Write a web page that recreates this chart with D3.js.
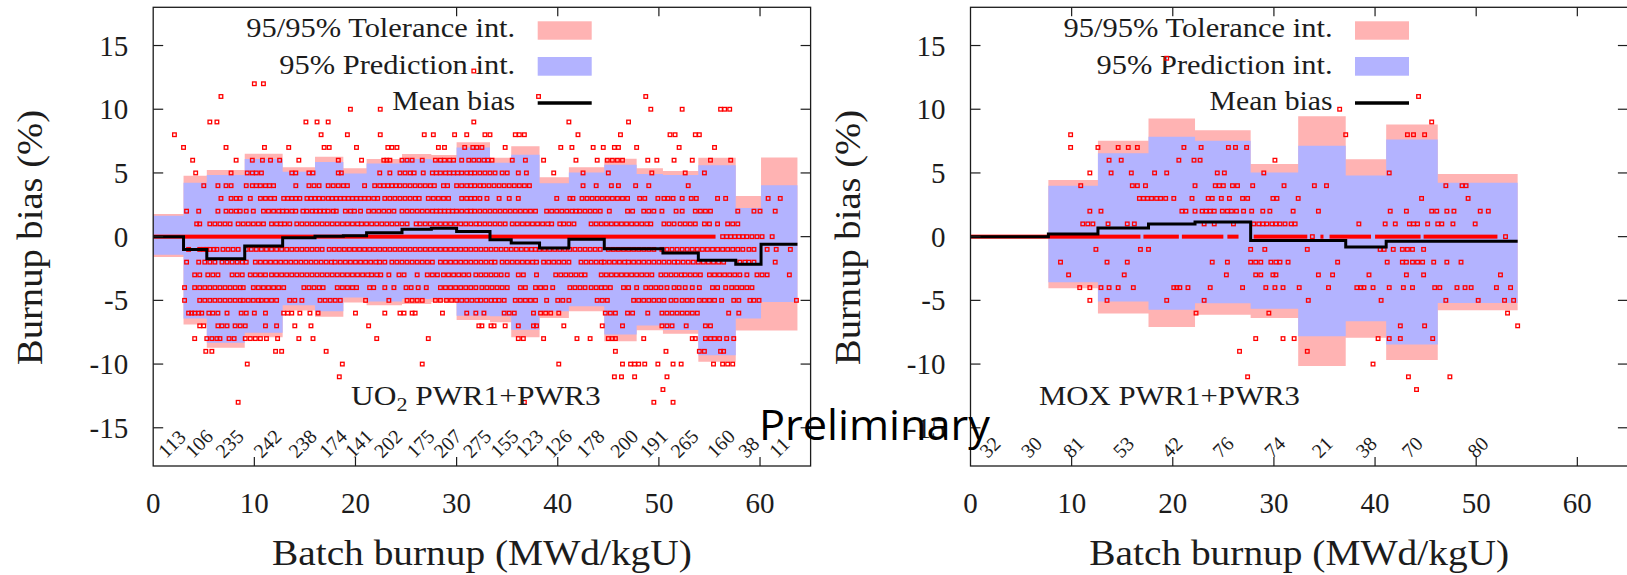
<!DOCTYPE html>
<html lang="en">
<head>
<meta charset="UTF-8">
<title>Burnup bias vs batch burnup</title>
<script src="https://d3js.org/d3.v7.min.js"></script>
<style>
  body { margin: 0; background: #fff; }
  svg text { font-family: "Liberation Serif", "DejaVu Serif", serif; fill: #1c1c1c; }
</style>
</head>
<body>
<svg id="chart" width="1627" height="575"></svg>
<script>
// ---------- UO2 panel ----------
const uo2Edges = [0, 3, 5.3, 9.05, 12.8, 16, 18.8, 21.1, 24.6, 27.5, 30, 33.3, 35.4, 38.2, 41.1, 44.6, 47.8, 50.4, 53.9, 57.6, 60.1, 63.7];
const uo2Mean = [0, -1.0, -1.73, -0.73, -0.08, 0.03, 0.08, 0.3, 0.58, 0.65, 0.4, -0.25, -0.5, -0.9, -0.2, -0.95, -0.95, -1.28, -1.86, -2.17, -0.6];
const uo2TolHi = [1.77, 4.77, 5.23, 6.5, 5.44, 6.28, 5.36, 6.1, 6.48, 6.4, 7.4, 6.2, 7.1, 4.66, 5.44, 6.12, 5.36, 5.16, 6.2, 3.2, 6.22];
const uo2PredHi = [1.64, 4.24, 4.84, 6.1, 5.1, 5.86, 4.95, 5.75, 6.1, 6.0, 7.0, 5.8, 6.43, 4.2, 5.03, 5.65, 4.92, 4.84, 5.6, 2.24, 4.04];
const uo2PredLo = [-1.43, -6.43, -8.33, -7.55, -5.39, -5.86, -4.77, -5.08, -4.9, -4.82, -6.2, -6.25, -7.3, -5.86, -5.47, -7.68, -6.98, -7.32, -9.3, -6.43, -5.13];
const uo2TolLo = [-1.59, -6.9, -8.72, -7.9, -5.8, -6.28, -5.16, -5.39, -5.29, -5.13, -6.55, -6.72, -7.9, -6.38, -5.86, -8.2, -7.34, -7.63, -9.82, -7.37, -7.37];
const uo2Counts = ["113", "106", "235", "242", "238", "174", "141", "202", "175", "207", "275", "155", "123", "126", "178", "200", "191", "265", "160", "38", "11"];
const uo2ZeroRuns = [[0, 55.6]];
const uo2Points = [
  [13, [31.7]],
  [12, [10.0, 10.9]],
  [11, [6.7, 38.1, 48.7]],
  [10, [19.5, 22.45, 49.2, 52.3, 56.1, 56.5, 57.0]],
  [9, [5.6, 6.3, 15.1, 16.2, 17.3, 31.7, 41.1, 47.0]],
  [8, [2.1, 16.6, 19.2, 22.45, 26.8, 27.7, 29.8, 31.0, 32.8, 33.3, 35.8, 36.2, 36.7, 42.0, 46.2, 51.1, 51.6, 53.6, 54.0]],
  [7, [3.0, 7.2, 11.0, 13.4, 16.9, 17.4, 20.1, 23.2, 23.6, 24.1, 28.2, 28.8, 30.8, 31.6, 32.0, 32.5, 34.8, 40.3, 41.4, 43.5, 44.5, 45.6, 46.0, 47.8, 52.0, 55.5]],
  [6, [3.9, 8.2, 9.8, 10.8, 11.6, 12.5, 14.4, 18.3, 20.6, 22.8, 23.1, 23.4, 24.6, 25.1, 25.6, 26.6, 27.9, 28.4, 28.8, 29.3, 29.7, 30.5, 31.2, 31.7, 32.2, 32.7, 33.1, 33.5, 35.5, 36.8, 38.6, 41.8, 43.9, 44.9, 45.4, 45.9, 46.4, 48.9, 49.8, 51.5, 53.3, 55.1, 57.1]],
  [5, [4.2, 7.7, 9.3, 9.8, 10.2, 10.7, 13.7, 14.1, 15.4, 15.8, 18.3, 18.6, 22.4, 23.4, 24.4, 24.9, 25.4, 25.8, 26.7, 27.6, 28.0, 28.4, 28.9, 29.3, 29.7, 30.1, 30.5, 31.0, 31.4, 31.8, 32.3, 32.8, 33.3, 33.8, 34.5, 35.0, 36.1, 36.9, 39.6, 42.5, 45.0, 49.3, 52.6, 54.5]],
  [4, [5.0, 6.4, 7.2, 7.7, 9.2, 9.8, 10.2, 10.6, 11.1, 11.5, 11.9, 14.1, 15.4, 15.9, 16.4, 17.3, 17.8, 18.3, 18.8, 19.2, 20.9, 21.9, 22.4, 22.8, 23.2, 23.6, 24.0, 24.4, 24.9, 25.4, 25.9, 26.4, 26.9, 27.4, 27.8, 28.7, 29.1, 30.0, 30.5, 31.0, 31.4, 31.8, 32.3, 32.7, 33.2, 33.7, 34.2, 34.7, 35.2, 35.7, 36.2, 36.7, 37.2, 42.5, 43.8, 45.3, 46.0, 47.7, 49.0, 52.9]],
  [3, [6.7, 7.7, 8.2, 8.6, 9.6, 10.6, 11.1, 11.6, 12.0, 12.9, 13.3, 13.7, 14.1, 14.5, 15.2, 15.6, 16.0, 16.4, 16.8, 17.3, 17.7, 18.1, 18.5, 18.9, 19.3, 19.7, 20.1, 20.5, 20.9, 21.3, 21.8, 22.2, 22.9, 23.4, 23.9, 24.4, 24.9, 25.4, 25.9, 26.3, 27.2, 27.7, 28.2, 28.7, 29.2, 30.5, 31.0, 31.4, 31.8, 32.3, 33.0, 34.2, 35.2, 36.1, 39.9, 41.2, 41.5, 42.4, 42.9, 43.4, 43.9, 44.4, 44.9, 45.4, 45.9, 46.4, 46.9, 48.1, 48.6, 49.9, 50.5, 50.9, 51.4, 52.3, 53.2, 53.7, 55.8, 56.6, 60.8, 62.0]],
  [2, [3.3, 4.5, 6.4, 7.2, 7.7, 8.2, 8.6, 9.2, 9.9, 10.9, 11.4, 11.9, 12.4, 12.8, 13.2, 13.7, 14.1, 14.8, 15.2, 15.7, 16.1, 16.5, 16.9, 17.3, 17.8, 18.1, 19.0, 19.5, 19.9, 20.5, 21.3, 21.8, 22.3, 22.8, 23.3, 23.8, 24.6, 25.1, 25.6, 26.1, 26.6, 27.1, 27.6, 28.0, 28.4, 28.8, 29.2, 29.6, 30.0, 30.5, 31.0, 31.4, 31.8, 32.3, 32.8, 33.3, 33.8, 34.3, 34.8, 35.3, 35.8, 36.3, 36.8, 37.3, 37.8, 38.9, 39.4, 39.9, 40.4, 40.9, 41.4, 41.8, 42.2, 42.7, 43.2, 43.7, 44.2, 45.1, 46.9, 47.4, 48.5, 49.0, 49.5, 50.3, 51.7, 52.3, 53.6, 54.1, 54.6, 55.1, 57.8, 59.4, 60.0, 61.5]],
  [1, [4.3, 4.6, 5.6, 6.1, 6.6, 7.1, 7.6, 8.4, 8.9, 9.4, 9.9, 10.4, 10.9, 11.7, 12.2, 12.6, 13.0, 13.5, 14.2, 14.7, 15.2, 15.7, 16.2, 16.7, 17.2, 17.7, 18.2, 18.7, 19.2, 19.7, 20.2, 20.6, 21.1, 21.6, 22.1, 22.6, 23.1, 23.6, 24.1, 24.6, 25.1, 26.0, 26.4, 26.9, 27.4, 27.9, 28.4, 28.9, 29.4, 29.9, 30.4, 30.9, 31.4, 31.9, 32.3, 32.8, 33.3, 33.8, 34.3, 34.8, 35.5, 36.0, 36.5, 37.0, 37.5, 38.0, 38.5, 39.0, 39.4, 40.2, 40.6, 41.1, 41.6, 43.3, 43.8, 44.3, 44.8, 45.3, 45.8, 46.3, 46.8, 47.3, 47.8, 48.3, 48.8, 49.2, 50.5, 51.0, 51.5, 52.1, 52.6, 53.1, 53.6, 54.5, 55.0, 55.8, 56.8, 57.3, 57.8]],
  [0, [56.3, 56.7, 57.1, 57.5, 57.9, 58.3, 58.7, 59.2, 59.7, 60.2, 61.2]],
  [-1, [3.5, 4.6, 5.0, 5.3, 5.6, 6.0, 6.3, 6.9, 7.4, 7.9, 8.4, 9.2, 9.7, 10.2, 10.7, 11.2, 11.7, 12.2, 12.7, 13.2, 13.7, 14.2, 14.7, 15.2, 15.7, 16.2, 16.7, 17.4, 17.9, 18.4, 18.9, 19.4, 19.9, 20.4, 20.9, 21.4, 21.9, 22.4, 22.9, 23.4, 23.9, 24.4, 24.9, 25.4, 25.9, 26.4, 26.9, 27.4, 27.9, 28.4, 28.9, 29.4, 29.9, 30.4, 30.9, 31.4, 31.9, 32.4, 32.9, 33.4, 33.9, 34.4, 34.9, 35.4, 35.9, 36.4, 36.9, 37.4, 37.8, 38.2, 38.7, 39.2, 39.7, 40.2, 40.7, 41.2, 41.7, 42.2, 42.7, 43.2, 43.7, 44.2, 45.0, 45.5, 46.0, 46.5, 47.0, 47.5, 48.0, 48.5, 49.0, 49.5, 50.3, 50.8, 51.3, 51.8, 52.3, 52.8, 53.3, 53.8, 54.3, 54.8, 55.3, 55.8, 56.3, 56.8, 57.3, 57.8, 58.3, 58.9, 59.4, 60.7, 61.6, 63.0]],
  [-2, [3.3, 4.5, 5.1, 5.6, 6.1, 6.8, 7.3, 7.8, 8.3, 8.8, 9.2, 10.1, 10.6, 11.1, 11.6, 12.1, 12.6, 13.1, 13.6, 14.1, 14.6, 15.1, 15.6, 16.1, 16.6, 17.1, 17.6, 18.0, 18.5, 19.0, 19.5, 20.0, 20.5, 21.0, 21.5, 22.0, 22.4, 22.9, 23.6, 24.1, 24.6, 25.1, 25.6, 26.1, 26.6, 27.1, 27.6, 28.4, 28.9, 29.4, 29.9, 30.4, 30.9, 31.4, 31.9, 32.4, 32.9, 33.4, 33.8, 34.5, 35.0, 35.5, 36.0, 36.5, 37.0, 37.5, 37.9, 38.6, 39.1, 39.6, 40.1, 40.6, 41.1, 42.3, 42.8, 43.3, 43.8, 44.3, 44.6, 45.1, 45.6, 46.1, 46.6, 47.0, 47.5, 48.0, 48.5, 49.0, 49.5, 50.0, 50.5, 51.0, 51.5, 51.9, 52.4, 52.9, 53.4, 53.9, 54.4, 54.9, 55.4, 55.9, 56.4, 58.0, 58.5, 58.9, 59.4, 61.5]],
  [-3, [4.1, 4.6, 5.4, 5.9, 6.4, 7.8, 8.3, 8.8, 9.6, 10.1, 10.6, 11.1, 11.7, 12.2, 12.7, 13.2, 13.7, 14.2, 14.7, 15.2, 15.7, 16.2, 16.7, 17.2, 17.7, 18.2, 18.7, 19.2, 19.7, 20.2, 20.7, 21.2, 21.6, 22.1, 22.5, 23.3, 24.3, 24.8, 26.1, 27.1, 27.6, 28.1, 28.7, 29.2, 29.7, 30.2, 30.7, 31.2, 31.9, 32.4, 32.9, 33.4, 33.9, 34.4, 35.0, 36.1, 36.6, 37.9, 39.8, 40.3, 40.8, 41.3, 41.8, 42.3, 42.7, 44.3, 44.8, 45.3, 45.8, 46.3, 46.8, 47.3, 47.8, 48.3, 48.8, 49.3, 50.2, 50.7, 51.2, 51.7, 52.2, 52.6, 53.1, 53.6, 54.1, 55.0, 55.5, 56.0, 56.5, 57.0, 57.5, 58.0, 58.7, 59.7, 60.2, 60.7, 62.9]],
  [-4, [3.1, 4.1, 4.6, 5.1, 5.6, 6.1, 6.6, 7.1, 7.6, 8.1, 8.6, 8.9, 9.9, 10.4, 10.9, 11.4, 11.9, 12.4, 12.9, 14.9, 15.4, 15.9, 16.4, 16.8, 18.2, 18.7, 19.2, 19.7, 20.1, 21.4, 21.8, 22.9, 23.8, 25.0, 25.5, 26.2, 27.0, 28.4, 28.9, 29.4, 29.9, 30.4, 30.9, 31.4, 31.9, 32.5, 33.0, 33.5, 34.0, 34.5, 35.0, 36.3, 36.8, 37.8, 38.3, 38.8, 39.5, 41.2, 41.7, 42.2, 42.7, 43.3, 43.8, 44.3, 44.7, 45.2, 46.5, 47.0, 47.8, 48.7, 49.2, 49.7, 50.2, 50.8, 51.5, 52.0, 52.6, 53.3, 54.0, 55.3, 55.8, 56.6, 57.2, 57.7, 58.2, 58.7, 59.2]],
  [-5, [3.1, 4.6, 5.1, 5.6, 6.1, 6.6, 7.1, 7.6, 8.1, 8.6, 8.9, 9.4, 9.9, 10.4, 10.7, 11.2, 11.7, 12.2, 13.5, 14.0, 14.7, 16.5, 17.0, 17.5, 18.0, 18.5, 21.0, 23.3, 25.1, 25.6, 26.1, 26.6, 27.9, 28.4, 29.0, 29.5, 30.0, 30.5, 31.0, 31.5, 32.0, 32.4, 32.9, 33.4, 33.8, 34.2, 34.7, 35.8, 36.3, 36.8, 37.3, 37.8, 38.9, 40.0, 40.5, 41.1, 43.9, 44.4, 44.9, 47.5, 48.0, 48.5, 49.0, 49.5, 50.0, 50.5, 51.2, 51.7, 52.3, 52.8, 53.3, 54.0, 54.5, 55.0, 55.5, 56.2, 57.4, 57.9, 59.0, 59.4, 59.9, 63.6]],
  [-6, [3.5, 3.8, 4.1, 4.5, 4.8, 5.5, 5.9, 6.4, 7.3, 8.7, 9.2, 10.0, 11.1, 12.9, 13.3, 13.7, 14.5, 15.5, 16.3, 20.0, 22.9, 24.4, 24.8, 25.6, 25.9, 28.6, 31.0, 31.9, 32.7, 34.7, 35.2, 35.7, 37.6, 38.3, 38.8, 39.3, 40.1, 44.7, 45.2, 45.7, 46.9, 47.4, 48.9, 50.3, 50.8, 51.3, 51.8, 52.3, 52.8, 53.3, 53.8, 56.9, 57.9]],
  [-7, [4.6, 5.0, 6.4, 6.8, 7.3, 8.1, 8.6, 9.1, 11.1, 12.2, 14.0, 15.6, 21.3, 32.2, 32.5, 33.4, 33.7, 34.8, 36.1, 37.6, 37.9, 40.6, 44.4, 46.4, 50.3, 50.8, 51.3, 52.7, 54.6, 55.1]],
  [-8, [4.1, 5.3, 5.8, 6.3, 6.6, 7.5, 8.0, 9.1, 9.6, 10.1, 10.6, 11.2, 12.3, 14.4, 15.8, 22.1, 27.2, 36.1, 36.6, 38.6, 41.9, 43.2, 45.0, 45.4, 45.7, 48.5, 53.3, 53.6, 54.6, 55.1, 55.5, 56.0, 56.7, 57.4]],
  [-9, [5.2, 5.8, 12.1, 12.7, 17.1, 45.7, 50.7, 54.0, 54.5, 56.1, 56.4]],
  [-10, [9.3, 18.7, 26.6, 40.1, 46.4, 47.2, 47.6, 48.0, 48.6, 49.9, 51.4, 52.2, 55.4, 56.3, 56.8, 57.3]],
  [-11, [18.4, 45.6, 46.3, 47.6, 50.8]],
  [-12, [50.4]],
  [-13, [8.4, 36.7, 49.5, 51.4]]
];

// ---------- MOX panel ----------
const moxEdges = [0, 7.7, 12.6, 17.6, 22.2, 27.7, 32.4, 37.1, 41.1, 46.2, 54.1];
const moxMean = [0, 0.2, 0.68, 0.99, 1.15, -0.31, -0.31, -0.81, -0.37, -0.37];
const moxTolHi = [0, 4.45, 7.53, 9.27, 8.36, 5.7, 9.45, 6.07, 8.8, 4.92];
const moxPredHi = [0, 4.0, 6.54, 7.84, 7.53, 5.03, 7.14, 4.79, 7.63, 4.24];
const moxPredLo = [0, -3.57, -5.08, -5.73, -5.23, -5.65, -7.81, -6.64, -8.46, -5.21];
const moxTolLo = [0, -4.04, -6.04, -7.1, -6.12, -6.38, -10.16, -7.94, -9.69, -5.78];
const moxCounts = ["32", "30", "81", "53", "42", "76", "74", "21", "38", "70", "80"];
const moxCountX = [1.9, 6.0, 10.15, 15.1, 19.9, 24.95, 30.05, 34.75, 39.1, 43.65, 50.15];
const moxZeroRuns = [[0, 16.8], [17.1, 20.6], [20.9, 25.0], [25.4, 26.5], [28.0, 33.3], [34.6, 34.9], [35.5, 39.6], [40.0, 44.5], [44.8, 52.1]];
const moxPoints = [
  [14, [19.4]],
  [11, [44.3]],
  [10, [36.5]],
  [9, [45.6]],
  [8, [9.9, 37.1, 43.2, 43.8, 44.9]],
  [7, [9.9, 12.6, 14.6, 15.6, 16.5, 21.1, 22.8, 25.5, 26.2, 27.3]],
  [6, [13.7, 14.9, 20.6, 22.1, 22.7, 30.1]],
  [5, [11.8, 13.9, 15.9, 18.2, 19.4, 24.4, 25.1, 29.0, 41.4]],
  [4, [10.9, 16.0, 16.5, 17.3, 22.2, 24.2, 24.6, 25.0, 25.9, 26.4, 27.9, 31.0, 34.0, 35.2, 47.0, 48.6, 49.0]],
  [3, [16.7, 17.1, 17.5, 17.9, 18.4, 18.8, 19.3, 20.1, 21.9, 23.5, 23.9, 24.8, 25.6, 26.9, 27.4, 29.9, 30.3, 32.4, 44.6, 49.2]],
  [2, [11.8, 12.9, 20.9, 21.3, 22.2, 22.9, 23.3, 23.7, 24.1, 24.9, 25.4, 25.8, 26.3, 27.0, 27.8, 28.9, 29.6, 31.9, 34.4, 41.5, 43.1, 45.6, 46.1, 47.1, 47.8, 50.4, 51.2]],
  [1, [11.1, 11.6, 12.1, 13.6, 15.5, 16.2, 23.1, 24.1, 26.0, 28.0, 28.5, 28.9, 29.3, 29.8, 30.2, 30.6, 31.1, 31.7, 32.1, 38.4, 41.0, 42.0, 43.4, 43.8, 44.2, 45.2, 46.2, 46.6, 47.7, 49.9]],
  [0, [33.8, 52.9]],
  [-1, [12.4, 16.8, 17.6, 27.7, 29.1, 33.3, 40.5, 40.9, 41.8, 42.7, 43.2, 43.7, 44.8]],
  [-2, [8.9, 13.5, 15.5, 23.9, 25.4, 27.7, 28.2, 28.7, 29.7, 30.2, 30.6, 31.4, 36.3, 41.2, 42.7, 43.1, 43.7, 44.2, 44.7, 45.8, 47.1, 48.5]],
  [-3, [9.7, 15.2, 25.3, 28.2, 28.7, 29.9, 30.2, 34.4, 35.8, 39.4, 43.1, 44.8, 52.4]],
  [-4, [10.8, 11.8, 12.9, 13.7, 14.6, 16.1, 20.1, 20.4, 20.7, 21.5, 23.7, 26.9, 29.2, 30.1, 30.9, 32.5, 35.4, 38.2, 38.6, 38.9, 39.8, 41.4, 42.8, 43.7, 45.9, 46.4, 48.1, 48.9, 49.5, 52.0, 53.4]],
  [-5, [11.8, 13.5, 19.4, 23.1, 33.4, 40.6, 47.0, 50.2, 52.8, 53.7]],
  [-6, [22.3, 29.5, 53.1]],
  [-7, [42.5, 44.9, 54.1]],
  [-8, [28.2, 30.9, 32.0, 40.3, 41.4, 42.5, 45.7]],
  [-9, [26.6, 33.3]],
  [-10, [39.8]],
  [-11, [27.4, 43.3, 47.4]],
  [-12, [44.1]]
];

// ---------- shared axis settings ----------
const xTicks = [0, 10, 20, 30, 40, 50, 60];
const yTicks = [-15, -10, -5, 0, 5, 10, 15];
const legendLabels = ["95/95% Tolerance int.", "95% Prediction int.", "Mean bias"];

const pink = "#ffb3b3", blue = "#b3b3ff";
const svg = d3.select("#chart");
const y = d3.scaleLinear().domain([-18, 18]).range([466, 7.3]);

// squeeze/stretch a text horizontally so it spans the width seen in the picture
function fitWidth(t, w, ax) {
  const len = t.node().getComputedTextLength();
  const sx = w / len;
  t.attr("transform", `translate(${ax},0) scale(${sx},1) translate(${-ax},0)`);
}

function drawPanel(p) {
  const left = p.left, right = p.left + 657.4;
  const x = d3.scaleLinear().domain([0, 65]).range([left, right]);
  const g = svg.append("g");
  const n = p.edges.length - 1;
  const idx = d3.range(n + 1);
  const at = (arr, i) => arr[Math.min(i, n - 1)];

  const band = (lo, hi) => d3.area().curve(d3.curveStepAfter)
    .x(i => x(p.edges[i])).y0(i => y(at(lo, i))).y1(i => y(at(hi, i)));
  g.append("path").datum(idx).attr("d", band(p.tolLo, p.tolHi)).attr("fill", pink);
  g.append("path").datum(idx).attr("d", band(p.predLo, p.predHi)).attr("fill", blue);

  // key
  const keyX = left + 362;
  legendLabels.forEach((lab, i) => {
    const t = g.append("text").attr("x", keyX).attr("y", [37, 74, 110][i])
      .attr("text-anchor", "end").attr("font-size", 27).text(lab);
    fitWidth(t, [269, 236, 123][i], keyX);
  });
  g.append("rect").attr("x", left + 384.5).attr("y", 21.3).attr("width", 54).attr("height", 18.4).attr("fill", pink);
  g.append("rect").attr("x", left + 384.5).attr("y", 57).attr("width", 54).attr("height", 18.7).attr("fill", blue);
  g.append("line").attr("x1", left + 384.5).attr("x2", left + 438.5).attr("y1", 103).attr("y2", 103)
    .attr("stroke", "#000").attr("stroke-width", 3.5);

  // dense zero-bias rows
  g.selectAll(null).data(p.zeroRuns).enter().append("rect")
    .attr("x", d => x(d[0])).attr("width", d => x(d[1]) - x(d[0]))
    .attr("y", y(0) - 2).attr("height", 4).attr("fill", "#ff0000");

  // points
  const pts = p.points.flatMap(([v, xs]) => xs.map(xv => [xv, v]));
  g.selectAll(null).data(pts).enter().append("rect")
    .attr("x", d => x(d[0]) - 1.8).attr("y", d => y(d[1]) - 1.8)
    .attr("width", 3.6).attr("height", 3.6)
    .attr("fill", "none").attr("stroke", "#ff0000").attr("stroke-width", 1.3);

  // mean bias step line
  const meanLine = d3.line().curve(d3.curveStepAfter)
    .x(i => x(p.edges[i])).y(i => y(at(p.mean, i)));
  g.append("path").datum(idx).attr("d", meanLine)
    .attr("fill", "none").attr("stroke", "#000").attr("stroke-width", 3);

  // frame and ticks
  g.append("rect").attr("x", left).attr("y", y(18)).attr("width", right - left).attr("height", y(-18) - y(18))
    .attr("fill", "none").attr("stroke", "#1c1c1c").attr("stroke-width", 1.3);
  xTicks.slice(1).forEach(v => {
    g.append("line").attr("x1", x(v)).attr("x2", x(v)).attr("y1", y(-18)).attr("y2", y(-18) - 9)
      .attr("stroke", "#1c1c1c").attr("stroke-width", 1.2);
  });
  p.topTicks.forEach(v => {
    g.append("line").attr("x1", x(v)).attr("x2", x(v)).attr("y1", y(18)).attr("y2", y(18) + 9)
      .attr("stroke", "#1c1c1c").attr("stroke-width", 1.2);
  });
  yTicks.forEach(v => {
    g.append("line").attr("x1", left).attr("x2", left + 10).attr("y1", y(v)).attr("y2", y(v))
      .attr("stroke", "#1c1c1c").attr("stroke-width", 1.2);
    g.append("line").attr("x1", right - 10).attr("x2", right).attr("y1", y(v)).attr("y2", y(v))
      .attr("stroke", "#1c1c1c").attr("stroke-width", 1.2);
    g.append("text").attr("x", left - 25).attr("y", y(v) + 10).attr("text-anchor", "end")
      .attr("font-size", 29).text(v);
  });
  xTicks.forEach(v => {
    g.append("text").attr("x", x(v)).attr("y", 513).attr("text-anchor", "middle")
      .attr("font-size", 29).text(v);
  });

  // counts per burnup bin
  p.counts.forEach((c, i) => {
    const cx = x(p.countX[i]) - 2;
    g.append("text").attr("transform", `translate(${cx},459) rotate(-45)`)
      .attr("font-size", 20).text(c);
  });

  // panel label
  const lab = g.append("text").attr("x", p.labelX).attr("y", 405).attr("font-size", 27);
  p.label(lab);
  fitWidth(lab, p.labelW, p.labelX);

  // axis titles
  g.append("text").attr("transform", `translate(${left - 111},237.5) rotate(-90)`)
    .attr("text-anchor", "middle").attr("font-size", 36)
    .attr("textLength", 255).attr("lengthAdjust", "spacingAndGlyphs").text("Burnup bias (%)");
  const cxm = (left + right) / 2;
  const xt = g.append("text").attr("x", cxm).attr("y", 565).attr("text-anchor", "middle")
    .attr("font-size", 36).text("Batch burnup (MWd/kgU)");
  fitWidth(xt, 420, cxm);
}

const uo2Centers = d3.range(uo2Edges.length - 1).map(i => (uo2Edges[i] + uo2Edges[i + 1]) / 2);

drawPanel({
  left: 153.2, edges: uo2Edges, mean: uo2Mean,
  tolHi: uo2TolHi, tolLo: uo2TolLo, predHi: uo2PredHi, predLo: uo2PredLo,
  zeroRuns: uo2ZeroRuns, points: uo2Points,
  counts: uo2Counts, countX: uo2Centers,
  topTicks: [30, 40, 50, 60],
  labelX: 351, labelW: 250,
  label: t => {
    t.append("tspan").text("UO");
    t.append("tspan").attr("font-size", 19).attr("dy", 6).text("2");
    t.append("tspan").attr("dy", -6).text(" PWR1+PWR3");
  }
});

drawPanel({
  left: 970.5, edges: moxEdges, mean: moxMean,
  tolHi: moxTolHi, tolLo: moxTolLo, predHi: moxPredHi, predLo: moxPredLo,
  zeroRuns: moxZeroRuns, points: moxPoints,
  counts: moxCounts, countX: moxCountX,
  topTicks: [10, 20, 30, 40, 50, 60],
  labelX: 1039, labelW: 261,
  label: t => t.text("MOX PWR1+PWR3")
});

// stamp over both panels
svg.append("text").attr("x", 759).attr("y", 440)
  .style("font-family", "'Open Sans', 'Noto Sans', sans-serif").style("fill", "#000")
  .attr("font-size", 42).attr("textLength", 231).attr("lengthAdjust", "spacingAndGlyphs")
  .text("Preliminary");
</script>
</body>
</html>
